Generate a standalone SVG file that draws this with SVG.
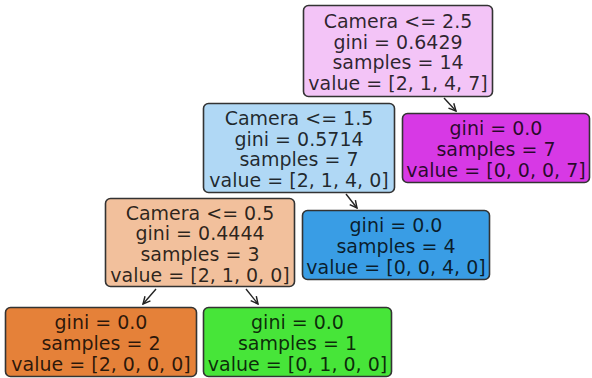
<svg xmlns="http://www.w3.org/2000/svg" width="592" height="378" viewBox="0 0 592 378">
<defs>
<marker id="ah" viewBox="0 0 10 10" refX="9" refY="5" markerWidth="9" markerHeight="9" orient="auto" markerUnits="userSpaceOnUse">
<path d="M1,1 L9,5 L1,9" fill="none" stroke="#222" stroke-width="1.6"/>
</marker>
<style>
.box{stroke:#333;stroke-width:1.6}
text{font-family:"DejaVu Sans","Liberation Sans",sans-serif;font-size:19px;fill:#000;fill-opacity:0.82;text-anchor:middle}
.edge{stroke:#222;stroke-width:1.4;fill:none;marker-end:url(#ah)}
</style>
</defs>
<rect width="592" height="378" fill="#fff"/>
<g id="connectors">
<line class="edge" x1="444" y1="98" x2="456" y2="111"/>
<line class="edge" x1="346" y1="194" x2="357" y2="208"/>
<line class="edge" x1="156" y1="289" x2="143" y2="304"/>
<line class="edge" x1="246" y1="289" x2="258" y2="304"/>
</g>
<g id="node0">
<rect class="box" x="303.5" y="5.5" width="189" height="91" rx="5" fill="#f3c4f7"/>
<text x="398" y="28">Camera &lt;= 2.5</text>
<text x="398" y="48.7">gini = 0.6429</text>
<text x="398" y="69.4">samples = 14</text>
<text x="398" y="90">value = [2, 1, 4, 7]</text>
</g>
<g id="node1">
<rect class="box" x="203.5" y="103.5" width="191" height="89" rx="5" fill="#b0d8f5"/>
<text x="299" y="125">Camera &lt;= 1.5</text>
<text x="299" y="145.7">gini = 0.5714</text>
<text x="299" y="166.4">samples = 7</text>
<text x="299" y="187">value = [2, 1, 4, 0]</text>
</g>
<g id="node6">
<rect class="box" x="402.5" y="113.5" width="187" height="69" rx="5" fill="#d739e5"/>
<text x="496" y="134.5">gini = 0.0</text>
<text x="496" y="155.5">samples = 7</text>
<text x="496" y="176.5">value = [0, 0, 0, 7]</text>
</g>
<g id="node2">
<rect class="box" x="105.5" y="198.5" width="189" height="88" rx="5" fill="#f2c09c"/>
<text x="200" y="219.5">Camera &lt;= 0.5</text>
<text x="200" y="240.2">gini = 0.4444</text>
<text x="200" y="260.9">samples = 3</text>
<text x="200" y="281.5">value = [2, 1, 0, 0]</text>
</g>
<g id="node5">
<rect class="box" x="302.5" y="210.5" width="187" height="69" rx="5" fill="#399de5"/>
<text x="396" y="231.5">gini = 0.0</text>
<text x="396" y="252.5">samples = 4</text>
<text x="396" y="273.5">value = [0, 0, 4, 0]</text>
</g>
<g id="node3">
<rect class="box" x="5.5" y="307.5" width="191" height="69" rx="5" fill="#e58139"/>
<text x="101" y="328.5">gini = 0.0</text>
<text x="101" y="349.5">samples = 2</text>
<text x="101" y="370.5">value = [2, 0, 0, 0]</text>
</g>
<g id="node4">
<rect class="box" x="203.5" y="307.5" width="188" height="69" rx="5" fill="#47e539"/>
<text x="297.5" y="328.5">gini = 0.0</text>
<text x="297.5" y="349.5">samples = 1</text>
<text x="297.5" y="370.5">value = [0, 1, 0, 0]</text>
</g>
</svg>
